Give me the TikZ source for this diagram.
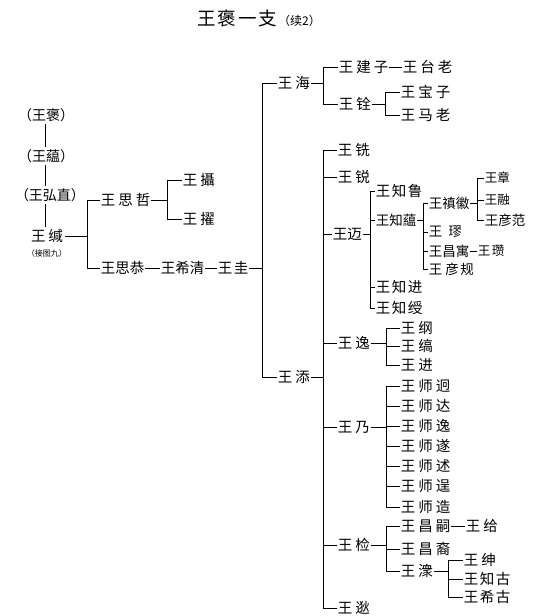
\documentclass[tikz,border=0pt]{standalone}
\usepackage{fontspec}
\newfontfamily\cjk{Noto Sans CJK SC}
\newcommand\gA{\hspace{3pt}}
\newcommand\gB{\hspace{1.5pt}}
\newcommand\gC{\hspace{4pt}}
\begin{document}
\begin{tikzpicture}[x=1pt,y=-1pt,
  nm/.style={anchor=west,inner sep=0.6pt,font=\cjk\fontsize{14.5}{14.5}\selectfont},
  dn/.style={nm,font=\cjk\fontsize{13.5}{13.5}\selectfont},
  sn/.style={nm,font=\cjk\fontsize{12.5}{12.5}\selectfont},
  pn/.style={inner sep=2pt,font=\cjk\fontsize{14}{14}\selectfont},
  ln/.style={line width=0.9pt}]
\useasboundingbox[fill=white] (0,0) rectangle (544,616);
% title
\node[font=\cjk] (title) at (259,18) {{\fontsize{18.5}{18.5}\selectfont 王\hspace{2pt}褒\hspace{2pt}一\hspace{2pt}支}\hspace{1pt}{\fontsize{12}{12}\selectfont （续2）}};
% left column
\node[pn] (bao) at (46,115) {（王褒）};
\node[pn] (yun) at (46,156) {（王藴）};
\node[pn] (hong) at (50,195) {（王弘直）};
\node[pn,font=\cjk\fontsize{14.5}{14.5}\selectfont] (jian) at (47,236) {王\gA{}缄};
\node[inner sep=0,font=\cjk\fontsize{8}{8}\selectfont] (jie) at (47,253) {（接图九）};
\coordinate (x45) at (45,0);
\draw[ln] (bao.south -| x45) -- (yun.north -| x45);
\draw[ln] (yun.south -| x45) -- (hong.north -| x45);
\draw[ln] (hong.south -| x45) -- (jian.north -| x45);
\coordinate (b0) at (87,0);
\draw[ln] (jian.east) -- (jian.east -| b0);
\node[nm] (sizhe) at (100,200) {王\gA{}思\gA{}哲};
\node[nm] (sigong) at (100,268) {王思恭};
\draw[ln] (sizhe.west) -- (sizhe.west -| b0) -- (sigong.west -| b0) -- (sigong.west);
\coordinate (b1) at (167,0);
\draw[ln] (sizhe.east) -- (sizhe.east -| b1);
\node[nm] (she) at (182,180) {王\gA{}攝};
\node[nm] (zhuo) at (182,219) {王\gA{}擢};
\draw[ln] (she.west) -- (she.west -| b1) -- (zhuo.west -| b1) -- (zhuo.west);
\node[nm] (xiqing) at (160,268) {王希清};
\draw[ln] (sigong.east) -- (xiqing.west);
\node[nm] (gui) at (217,268) {王\gB{}圭};
\draw[ln] (xiqing.east) -- (gui.west);
\coordinate (b2) at (262,0);
\draw[ln] (gui.east) -- (gui.east -| b2);
% second level
\node[nm] (hai) at (277,83) {王\gA{}海};
\node[nm] (tian) at (277,377) {王\gA{}添};
\draw[ln] (hai.west) -- (hai.west -| b2) -- (tian.west -| b2) -- (tian.west);
\coordinate (b3) at (323,0);
\draw[ln] (hai.east) -- (hai.east -| b3);
\node[nm] (jianzi) at (338,67) {王\gA{}建\gA{}子};
\node[nm] (tailao) at (402,67) {王\gA{}台\gA{}老};
\draw[ln] (jianzi.east) -- (tailao.west);
\node[nm] (quan) at (338,104) {王\gA{}铨};
\draw[ln] (jianzi.west) -- (jianzi.west -| b3) -- (quan.west -| b3) -- (quan.west);
\coordinate (b4) at (385,0);
\draw[ln] (quan.east) -- (quan.east -| b4);
\node[nm] (baozi) at (400,92) {王\gA{}宝\gA{}子};
\node[nm] (malao) at (400,115) {王\gA{}马\gA{}老};
\draw[ln] (baozi.west) -- (baozi.west -| b4) -- (malao.west -| b4) -- (malao.west);
% tian's children
\node[nm] (xian) at (337,150) {王\gA{}铣};
\node[nm] (rui) at (337,177) {王\gA{}锐};
\node[nm] (mai) at (332,234) {王迈};
\node[nm] (yi) at (337,343) {王\gA{}逸};
\node[nm] (nai) at (337,427) {王\gA{}乃};
\node[nm] (jianb) at (337,545) {王\gA{}检};
\node[nm] (ti) at (337,608) {王\gA{}逖};
\draw[ln] (tian.east) -- (tian.east -| b3);
\draw[ln] (xian.west) -- (xian.west -| b3) -- (ti.west -| b3) -- (ti.west);
\foreach \n in {rui,mai,yi,nai,jianb} \draw[ln] (\n.west) -- (\n.west -| b3);
% mai
\coordinate (b5) at (370,0);
\draw[ln] (mai.east) -- (mai.east -| b5);
\node[nm] (zhilu) at (375,191) {王\gB{}知\gB{}鲁};
\node[dn] (zhiyun) at (375,220) {王知藴};
\node[nm] (zhijin) at (375,287) {王\gB{}知\gB{}进};
\node[nm] (zhishou) at (375,308) {王\gB{}知\gB{}绶};
\draw[ln] (zhilu.west) -- (zhilu.west -| b5) -- (zhishou.west -| b5) -- (zhishou.west);
\foreach \n in {zhiyun,zhijin} \draw[ln] (\n.west) -- (\n.west -| b5);
\coordinate (b6) at (423,0);
\draw[ln] (zhiyun.east) -- (zhiyun.east -| b6);
\node[dn] (zhenhui) at (428,203) {王禛徽};
\node[dn] (qiu) at (428,232) {王\hspace{6pt}璆};
\node[dn] (changyu) at (428,251) {王昌寓};
\node[dn] (yangui) at (428,269) {王\gA{}彦\gB{}规};
\draw[ln] (zhenhui.west) -- (zhenhui.west -| b6) -- (yangui.west -| b6) -- (yangui.west);
\foreach \n in {qiu,changyu} \draw[ln] (\n.west) -- (\n.west -| b6);
\node[sn] (zan) at (477,251) {王\gB{}瓒};
\draw[ln] (changyu.east) -- (zan.west);
\coordinate (b7) at (477,0);
\draw[ln] (zhenhui.east) -- (zhenhui.east -| b7);
\node[sn] (zhang) at (484,178) {王章};
\node[sn] (rong) at (484,200) {王融};
\node[dn] (yanfan) at (484,220) {王彦范};
\draw[ln] (zhang.west) -- (zhang.west -| b7) -- (yanfan.west -| b7) -- (yanfan.west);
\draw[ln] (rong.west) -- (rong.west -| b7);
% yi
\coordinate (b8) at (386,0);
\draw[ln] (yi.east) -- (yi.east -| b8);
\node[nm] (gang) at (400,328) {王\gA{}纲};
\node[nm] (gao) at (400,346) {王\gA{}缟};
\node[nm] (jinb) at (400,365) {王\gA{}进};
\draw[ln] (gang.west) -- (gang.west -| b8) -- (jinb.west -| b8) -- (jinb.west);
\draw[ln] (gao.west) -- (gao.west -| b8);
% nai
\draw[ln] (nai.east) -- (nai.east -| b8);
\node[nm] (s1) at (400,386) {王\gA{}师\gA{}迥};
\node[nm] (s2) at (400,406) {王\gA{}师\gA{}达};
\node[nm] (s3) at (400,426) {王\gA{}师\gA{}逸};
\node[nm] (s4) at (400,446) {王\gA{}师\gA{}遂};
\node[nm] (s5) at (400,466) {王\gA{}师\gA{}述};
\node[nm] (s6) at (400,486) {王\gA{}师\gA{}逞};
\node[nm] (s7) at (400,507) {王\gA{}师\gA{}造};
\draw[ln] (s1.west) -- (s1.west -| b8) -- (s7.west -| b8) -- (s7.west);
\foreach \n in {s2,s3,s4,s5,s6} \draw[ln] (\n.west) -- (\n.west -| b8);
% jian (检)
\draw[ln] (jianb.east) -- (jianb.east -| b8);
\node[nm] (changsi) at (400,526) {王\gA{}昌\gA{}嗣};
\node[nm] (gei) at (465,526) {王\gA{}给};
\draw[ln] (changsi.east) -- (gei.west);
\node[nm] (changyi) at (400,549) {王\gA{}昌\gA{}裔};
\node[nm] (cong) at (400,571) {王\gA{}潨};
\draw[ln] (changsi.west) -- (changsi.west -| b8) -- (cong.west -| b8) -- (cong.west);
\draw[ln] (changyi.west) -- (changyi.west -| b8);
\coordinate (b9) at (448,0);
\draw[ln] (cong.east) -- (cong.east -| b9);
\node[nm] (shen) at (463,560) {王\gA{}绅};
\node[nm] (zhigu) at (463,579) {王\gB{}知\gB{}古};
\node[nm] (xigu) at (463,597) {王\gB{}希\gB{}古};
\draw[ln] (shen.west) -- (shen.west -| b9) -- (xigu.west -| b9) -- (xigu.west);
\draw[ln] (zhigu.west) -- (zhigu.west -| b9);
\end{tikzpicture}
\end{document}
